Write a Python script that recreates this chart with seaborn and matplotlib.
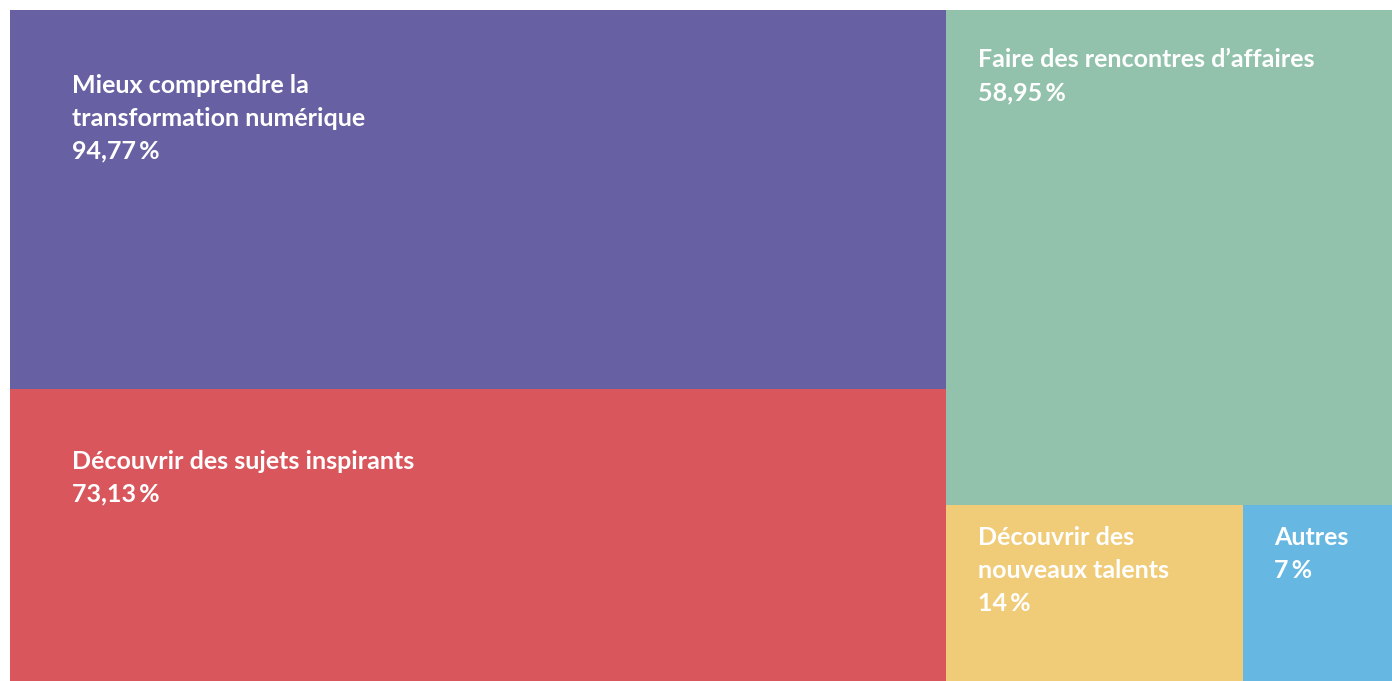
"""Treemap of the reasons for attending, drawn from the survey shares."""
import matplotlib
matplotlib.use("Agg")
import matplotlib.pyplot as plt
from matplotlib.patches import Rectangle
import seaborn as sns

# Data
labels = [
    "Mieux comprendre la\ntransformation numérique",
    "Découvrir des sujets inspirants",
    "Faire des rencontres d\u2019affaires",
    "Découvrir des\nnouveaux talents",
    "Autres",
]
values = [94.77, 73.13, 58.95, 14, 7]
value_text = ["94,77\u2009%", "73,13\u2009%", "58,95\u2009%", "14\u2009%", "7\u2009%"]

# Layout grouping: which column, and which row inside that column
column = [0, 0, 1, 1, 1]
row = [0, 1, 0, 1, 1]

colors = ["#6761A3", "#D9565C", "#92C2AC", "#F0CB78", "#66B8E2"]
# text offset from each cell's top-left corner, in points
text_pad = [(44.5, 46), (44.5, 44), (23, 27.5), (23, 15.5), (22, 15.5)]

sns.set_theme(style="white")
plt.rcParams["font.family"] = ["Lato", "DejaVu Sans"]


def layout(values, column, row):
    """Slice columns by their totals, rows inside by theirs, then cells."""
    total = sum(values)
    rects = [None] * len(values)
    x = 0.0
    for c in sorted(set(column)):
        idx = [i for i in range(len(values)) if column[i] == c]
        c_sum = sum(values[i] for i in idx)
        w = c_sum / total
        y = 1.0
        for r in sorted(set(row[i] for i in idx)):
            r_idx = [i for i in idx if row[i] == r]
            r_sum = sum(values[i] for i in r_idx)
            h = r_sum / c_sum
            cx = x
            for i in r_idx:
                cw = w * values[i] / r_sum
                rects[i] = (cx, y - h, cw, h)
                cx += cw
            y -= h
        x += w
    return rects


fig = plt.figure(figsize=(13.92, 6.81), dpi=100)
ax = fig.add_axes([10 / 1392, 0, 1382 / 1392, 671 / 681])
ax.set_xlim(0, 1)
ax.set_ylim(0, 1)
ax.axis("off")

for i, (x0, y0, w, h) in enumerate(layout(values, column, row)):
    ax.add_patch(Rectangle((x0, y0), w, h, facecolor=colors[i],
                           edgecolor="none"))
    dx, dy = text_pad[i]
    ax.annotate(f"{labels[i]}\n{value_text[i]}", xy=(x0, y0 + h),
                xytext=(dx, -dy), textcoords="offset points",
                ha="left", va="top", color="white", fontsize=18,
                fontweight="bold", linespacing=1.52)

fig.savefig("out.png", dpi=100)
